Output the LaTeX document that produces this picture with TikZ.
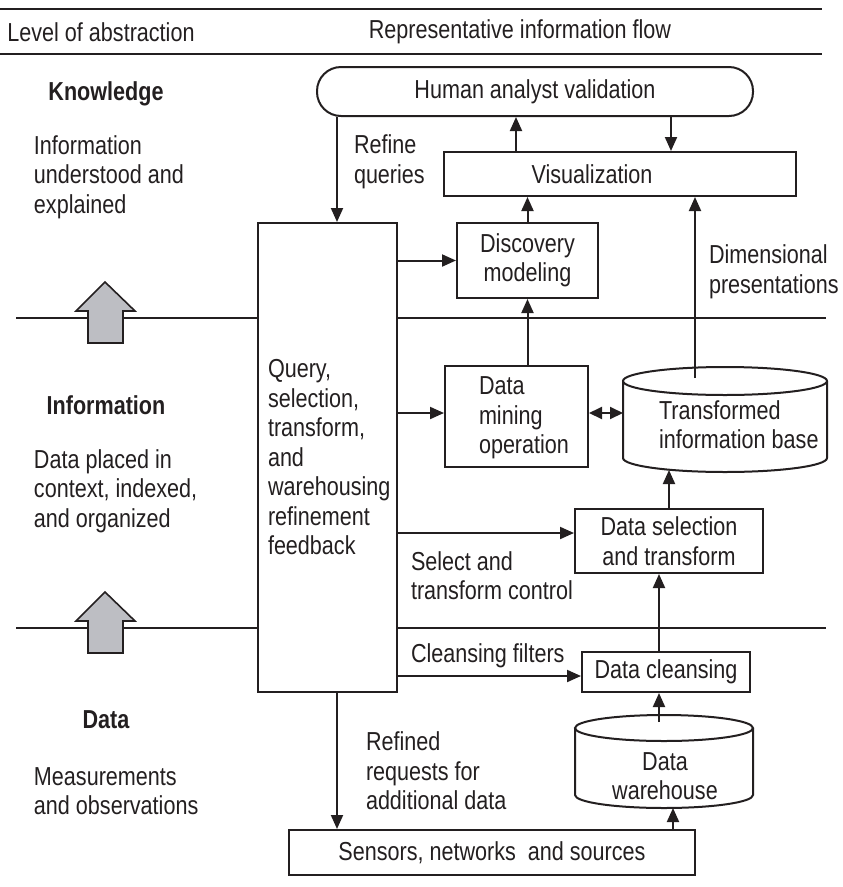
\documentclass[tikz,border=0pt]{standalone}
\usepackage{fontspec}
\setmainfont{Liberation Sans}[FakeStretch=0.83]
\usetikzlibrary{arrows.meta}
\definecolor{ink}{RGB}{35,31,32}
\definecolor{blockgray}{RGB}{189,190,195}

\begin{document}
\begin{tikzpicture}[x=1pt,y=-1pt, line width=2pt, color=ink,
  font=\fontsize{26}{29.5}\selectfont,
  box/.style={draw, fill=white, inner sep=0pt, align=center},
  lbl/.style={inner sep=0pt, align=left, anchor=west},
  head/.style={inner sep=0pt, font=\fontsize{26}{29.5}\selectfont\bfseries},
  flow/.style={-{Triangle[length=14pt,width=12pt]}},
  both/.style={{Triangle[length=13pt,width=12pt]}-{Triangle[length=13pt,width=12pt]}},
  level/.style={draw, fill=blockgray, line width=1.6pt, line join=miter}]
\useasboundingbox (0,0) rectangle (843,887);

% header rules and titles
\draw (0,9) -- (822,9);
\draw (0,54) -- (822,54);
\node[inner sep=0pt] (hleft) at (101,32) {Level of abstraction};
\node[inner sep=0pt] (hright) at (520,32) {Representative information flow};

% level separators
\draw (16,318) -- (826,318);
\draw (16,628) -- (826,628);

% level arrows
\draw[level] (88,343) -- (88,311) -- (76,311) -- (105,282) -- (135,311) -- (123,311) -- (123,343) -- cycle;
\draw[level] (88,653) -- (88,621) -- (76,621) -- (105,592) -- (135,621) -- (123,621) -- (123,653) -- cycle;

% level descriptions
\node[head] (knowledge) at (106,94) {Knowledge};
\node[lbl] (kdesc) at (33,177) {Information\\understood and\\explained};
\node[head] (information) at (106,405) {Information};
\node[lbl] (idesc) at (33,491) {Data placed in\\context, indexed,\\and organized};
\node[head] (data) at (106,720) {Data};
\node[lbl] (ddesc) at (33,791) {Measurements\\and observations};

% process boxes
\node[box, rounded corners=24pt, minimum width=436, minimum height=49] (human) at (535,91.5) {Human analyst validation};
\node[box, minimum width=352, minimum height=44] (vis) at (620,174) {\hspace*{-56pt}Visualization};
\node[box, minimum width=141, minimum height=75] (disc) at (527.5,260.5) {Discovery\\modeling};
\node[box, minimum width=139, minimum height=469] (query) at (327.5,457.5) {};
\node[lbl] (qtext) at (267,457.5) {Query,\\selection,\\transform,\\and\\warehousing\\refinement\\feedback};
\node[box, minimum width=143, minimum height=101] (mining) at (516.5,416.5) {};
\node[lbl] (mtext) at (478,418) {Data\\mining\\operation};
\node[box, minimum width=188, minimum height=64] (sel) at (669,541) {Data selection\\and transform};
\node[box, minimum width=168, minimum height=40] (clean) at (666,672) {Data cleansing};
\node[box, minimum width=406, minimum height=45] (sensors) at (492,852.5) {Sensors, networks\ \ and sources};

% transformed information base (cylinder)
\filldraw[fill=white] (623,381) -- (623,458) arc[start angle=180, end angle=0, x radius=102, y radius=14] -- (827,381);
\filldraw[fill=white] (725,381) ellipse[x radius=102, y radius=14];
\node[lbl] (tib) at (658,424.5) {Transformed\\information base};

% data warehouse (cylinder)
\filldraw[fill=white] (575,728) -- (575,795) arc[start angle=180, end angle=0, x radius=89, y radius=13] -- (753,728);
\filldraw[fill=white] (664,728) ellipse[x radius=89, y radius=13];
\node[inner sep=0pt, align=center] (dw) at (665,776) {Data\\warehouse};

% connector end points on the cylinders
\coordinate (tibtop) at (695,378);
\coordinate (tibbot) at (669,470);
\coordinate (tibleft) at (623,413);
\coordinate (dwtop) at (659,722);
\coordinate (dwbot) at (673,808);

% connector columns and rows
\coordinate (cq) at (337,0);
\coordinate (cup) at (516,0);
\coordinate (cdown) at (671,0);
\coordinate (rmine) at (0,413);
\coordinate (rsel) at (0,533);
\coordinate (rclean) at (0,676);

% connectors
\draw[flow] (cq |- human.south) -- (cq |- query.north);
\draw[flow] (cup |- vis.north) -- (cup |- human.south);
\draw[flow] (cdown |- human.south) -- (cdown |- vis.north);
\draw[flow] (disc.north) -- (disc.north |- vis.south);
\draw[flow] (disc.south |- mining.north) -- (disc.south);
\draw[flow] (tibtop) -- (tibtop |- vis.south);
\draw[flow] (query.east |- disc.west) -- (disc.west);
\draw[flow] (query.east |- rmine) -- (mining.west |- rmine);
\draw[both] (mining.east |- rmine) -- (tibleft);
\draw[flow] (query.east |- rsel) -- (sel.west |- rsel);
\draw[flow] (sel.north) -- (tibbot);
\draw[flow] (query.east |- rclean) -- (clean.west |- rclean);
\draw[flow] (dwtop |- clean.north) -- (dwtop |- sel.south);
\draw[flow] (dwtop) -- (dwtop |- clean.south);
\draw[flow] (dwbot |- sensors.north) -- (dwbot);
\draw[flow] (cq |- query.south) -- (cq |- sensors.north);

% connector labels
\node[lbl] (refine) at (353,162) {Refine\\queries};
\node[lbl] (dimpres) at (708,272) {Dimensional\\presentations};
\node[lbl] (selctl) at (410,575.5) {Select and\\transform control};
\node[lbl] (cleanf) at (410,656) {Cleansing filters};
\node[lbl] (refreq) at (365,771) {Refined\\requests for\\additional data};
\end{tikzpicture}
\end{document}
